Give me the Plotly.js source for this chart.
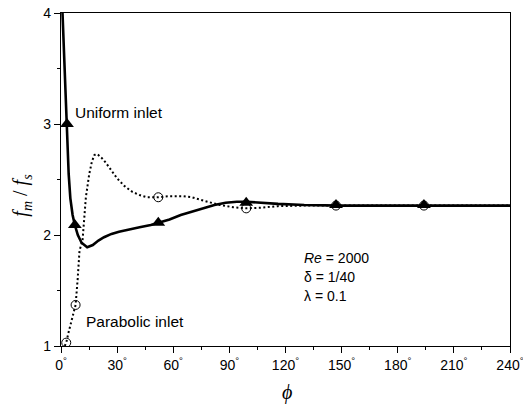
<!DOCTYPE html>
<html>
<head>
<meta charset="utf-8">
<script src="https://cdn.plot.ly/plotly-3.0.1.min.js"></script>
<style>html,body{margin:0;padding:0;background:#fff;}#chart{width:523px;height:406px;}</style>
</head>
<body>
<div id="chart"></div>
<script>
// Uniform inlet (solid curve)
var uniformX = [0.8, 1.5, 2.3, 3.0, 3.5, 4.1, 5.0, 6.2, 7.4, 9.0, 11, 14, 17, 20, 23, 27, 31, 36, 42, 48, 52, 58, 64, 70, 76, 82, 88, 94, 99, 106, 116, 130, 150, 180, 210, 240];
var uniformY = [4.0, 3.7, 3.35, 3.0, 2.75, 2.55, 2.33, 2.18, 2.09, 2.0, 1.93, 1.89, 1.91, 1.95, 1.98, 2.01, 2.03, 2.05, 2.07, 2.09, 2.11, 2.14, 2.18, 2.21, 2.24, 2.27, 2.29, 2.30, 2.30, 2.29, 2.28, 2.27, 2.265, 2.265, 2.265, 2.265];
var uniformMarkX = [3.2, 7.4, 52, 99, 147, 194];
var uniformMarkY = [3.0, 2.09, 2.11, 2.29, 2.27, 2.27];

// Parabolic inlet (dotted curve)
var parabX = [2.0, 2.8, 4.0, 5.5, 6.7, 7.8, 8.9, 9.9, 11.5, 12.4, 13.3, 15.1, 16.5, 17.8, 18.8, 20, 22, 24, 27, 30, 34, 38, 42, 46, 52, 58, 65, 70, 76, 80, 85, 92, 99, 106, 116, 130, 150, 180, 210, 240];
var parabY = [1.0, 1.03, 1.12, 1.22, 1.30, 1.37, 1.60, 1.86, 1.95, 2.16, 2.34, 2.55, 2.66, 2.72, 2.73, 2.72, 2.69, 2.65, 2.58, 2.51, 2.44, 2.39, 2.36, 2.34, 2.34, 2.35, 2.35, 2.34, 2.31, 2.29, 2.27, 2.25, 2.24, 2.245, 2.26, 2.265, 2.265, 2.265, 2.265, 2.265];
var parabMarkX = [2.8, 7.8, 52, 99, 147, 194];
var parabMarkY = [1.03, 1.37, 2.34, 2.24, 2.265, 2.265];

var xTickVals = [0, 30, 60, 90, 120, 150, 180, 210, 240];
var xTickText = xTickVals.map(function(v){ return v + '<sup>°</sup>'; });
var yTickVals = [1, 2, 3, 4];

var traces = [
  {x: parabX, y: parabY, mode: 'lines', line: {color: '#000', width: 2, dash: '2px,2.5px'}, hoverinfo: 'skip'},
  {x: uniformX, y: uniformY, mode: 'lines', line: {color: '#000', width: 2.6}, hoverinfo: 'skip'},
  {x: parabMarkX, y: parabMarkY, mode: 'markers', marker: {symbol: 'circle-open', size: 9, color: '#000', line: {width: 1, color: '#000'}}},
  {x: uniformMarkX, y: uniformMarkY, mode: 'markers', marker: {symbol: 'triangle-up', size: 12, color: '#000'}}
];

var fontSans = 'Arial, "Liberation Sans", sans-serif';
var fontSerif = '"Times New Roman", "Liberation Serif", serif';

var layout = {
  width: 523, height: 406,
  margin: {l: 61, r: 13, t: 13, b: 60},
  paper_bgcolor: '#fff', plot_bgcolor: '#fff',
  showlegend: false,
  font: {family: fontSans, size: 14, color: '#000'},
  xaxis: {
    range: [0, 240], showgrid: false, zeroline: false,
    showline: true, linecolor: '#000', linewidth: 1.2, mirror: true,
    ticks: 'outside', ticklen: 6, tickwidth: 1, tickcolor: '#000',
    tickvals: xTickVals, ticktext: xTickText, ticklabeloverflow: 'allow',
    tickfont: {family: fontSans, size: 14, color: '#000'},
    minor: {ticks: 'outside', ticklen: 3, dtick: 15, tick0: 0, tickcolor: '#000', tickwidth: 1}
  },
  yaxis: {
    range: [1, 4], showgrid: false, zeroline: false,
    showline: true, linecolor: '#000', linewidth: 1.2, mirror: true,
    ticks: 'outside', ticklen: 6, tickwidth: 1, tickcolor: '#000',
    tickvals: yTickVals, ticktext: yTickVals.map(String),
    tickfont: {family: fontSans, size: 14, color: '#000'},
    minor: {ticks: 'outside', ticklen: 3, dtick: 0.5, tick0: 0, tickcolor: '#000', tickwidth: 1}
  },
  annotations: [
    {text: 'Uniform inlet', x: 6.5, y: 3.1, xref: 'x', yref: 'y', xanchor: 'left', yanchor: 'middle', showarrow: false, font: {family: fontSans, size: 15.5, color: '#000'}},
    {text: 'Parabolic inlet', x: 12.5, y: 1.22, xref: 'x', yref: 'y', xanchor: 'left', yanchor: 'middle', showarrow: false, font: {family: fontSans, size: 15.5, color: '#000'}},
    {text: '<i>Re</i> = 2000', x: 128.8, y: 1.79, xref: 'x', yref: 'y', xanchor: 'left', yanchor: 'middle', showarrow: false, font: {family: fontSans, size: 14, color: '#000'}},
    {text: 'δ = 1/40', x: 128.8, y: 1.62, xref: 'x', yref: 'y', xanchor: 'left', yanchor: 'middle', showarrow: false, font: {family: fontSans, size: 14, color: '#000'}},
    {text: 'λ = 0.1', x: 128.8, y: 1.45, xref: 'x', yref: 'y', xanchor: 'left', yanchor: 'middle', showarrow: false, font: {family: fontSans, size: 14, color: '#000'}},
    {text: '<i>f</i><sub><i>m</i></sub> / <i>f</i><sub><i>s</i></sub>', x: -0.088, y: 0.453, xref: 'paper', yref: 'paper', xanchor: 'center', yanchor: 'middle', textangle: -90, showarrow: false, font: {family: fontSerif, size: 20, color: '#000'}},
    {text: '<i>ϕ</i>', x: 0.503, y: -0.141, xref: 'paper', yref: 'paper', xanchor: 'center', yanchor: 'middle', showarrow: false, font: {family: fontSerif, size: 20, color: '#000'}}
  ]
};

Plotly.newPlot('chart', traces, layout, {staticPlot: true, displayModeBar: false});
</script>
</body>
</html>
